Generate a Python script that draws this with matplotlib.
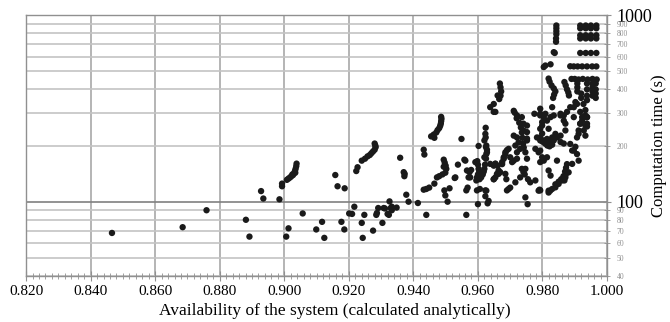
import matplotlib.pyplot as plt
import matplotlib.ticker as mticker
import numpy as np

# availability (x) and computation time in seconds (y)
avail = [
    0.8466, 0.8685, 0.8759, 0.8881, 0.8892, 0.8928, 0.8935, 0.8985, 0.8993, 0.8993,
    0.9008, 0.9013, 0.9018, 0.9022, 0.9027, 0.9030, 0.9033, 0.9035, 0.9037, 0.9038,
    0.9034, 0.9025, 0.9057, 0.9013, 0.9006, 0.9099, 0.9117, 0.9124, 0.9158, 0.9165,
    0.9187, 0.9177, 0.9186, 0.9201, 0.9210, 0.9217, 0.9223, 0.9227, 0.9240, 0.9250,
    0.9258, 0.9265, 0.9270, 0.9275, 0.9280, 0.9283, 0.9282, 0.9280, 0.9240, 0.9243,
    0.9248, 0.9275, 0.9285, 0.9287, 0.9291, 0.9304, 0.9308, 0.9312, 0.9320, 0.9324,
    0.9326, 0.9330, 0.9348, 0.9359, 0.9333, 0.9333,
    0.9370, 0.9372, 0.9373, 0.9378, 0.9385, 0.9414, 0.9432, 0.9434, 0.9432, 0.9440,
    0.9449, 0.9440, 0.9455, 0.9463, 0.9465, 0.9471, 0.9475, 0.9480, 0.9483, 0.9485,
    0.9486, 0.9487, 0.9486, 0.9465, 0.9473, 0.9480, 0.9490, 0.9499, 0.9502, 0.9500,
    0.9497, 0.9494, 0.9494, 0.9496, 0.9499, 0.9506, 0.9512, 0.9528, 0.9538, 0.9549,
    0.9558, 0.9564, 0.9568, 0.9564, 0.9571, 0.9574, 0.9579,
    0.9561, 0.9566, 0.9576, 0.9592, 0.9530, 0.9597, 0.9623, 0.9633,
    0.9600, 0.9606, 0.9598, 0.9600, 0.9602, 0.9604, 0.9600, 0.9597, 0.9595, 0.9605,
    0.9610, 0.9615, 0.9618, 0.9620, 0.9622, 0.9625, 0.9626, 0.9628, 0.9626, 0.9602,
    0.9624, 0.9624, 0.9626, 0.9623, 0.9630, 0.9638, 0.9649, 0.9654, 0.9661, 0.9649,
    0.9661, 0.9654, 0.9668, 0.9670, 0.9672, 0.9670, 0.9666, 0.9649, 0.9654, 0.9664,
    0.9649, 0.9659, 0.9669, 0.9675, 0.9680, 0.9685, 0.9690, 0.9685, 0.9688, 0.9690,
    0.9695, 0.9700,
    0.9623, 0.9620, 0.9625, 0.9628, 0.9620,
    0.9638, 0.9654, 0.9649, 0.9664, 0.9675, 0.9680, 0.9685, 0.9695, 0.9700, 0.9706,
    0.9716, 0.9721, 0.9731,
    0.9711, 0.9714, 0.9720, 0.9728, 0.9733, 0.9736, 0.9738, 0.9740, 0.9742, 0.9721,
    0.9736, 0.9741, 0.9741, 0.9752, 0.9752, 0.9752, 0.9752, 0.9711, 0.9721, 0.9726,
    0.9711, 0.9721, 0.9747, 0.9752, 0.9716, 0.9731, 0.9741, 0.9747, 0.9736, 0.9745,
    0.9755, 0.9762, 0.9747, 0.9754, 0.9775, 0.9778, 0.9778, 0.9788, 0.9799, 0.9793,
    0.9799, 0.9799, 0.9793, 0.9799, 0.9793, 0.9793, 0.9793, 0.9791, 0.9788,
    0.9783, 0.9793, 0.9804, 0.9814, 0.9824, 0.9835, 0.9845, 0.9856, 0.9866,
    0.9793, 0.9804, 0.9793, 0.9814,
    0.9804, 0.9809, 0.9825, 0.9819, 0.9822, 0.9828, 0.9835, 0.9840, 0.9836, 0.9833,
    0.9835, 0.9838, 0.9843, 0.9843, 0.9843, 0.9843, 0.9842, 0.9842, 0.9868, 0.9872,
    0.9876, 0.9880, 0.9882, 0.9886, 0.9897, 0.9909, 0.9923, 0.9938, 0.9954, 0.9967,
    0.9917, 0.9934, 0.9950, 0.9967,
    0.9917, 0.9917, 0.9917, 0.9917, 0.9934, 0.9934, 0.9934, 0.9934,
    0.9950, 0.9950, 0.9950, 0.9950, 0.9967, 0.9967, 0.9967, 0.9967,
    0.9890, 0.9900, 0.9912, 0.9925, 0.9940, 0.9955, 0.9968,
    0.9908, 0.9908, 0.9908, 0.9920, 0.9920, 0.9938, 0.9938, 0.9938, 0.9938,
    0.9955, 0.9955, 0.9955, 0.9955, 0.9965, 0.9965, 0.9965, 0.9965,
    0.9886, 0.9902, 0.9917, 0.9927, 0.9933, 0.9938, 0.9933,
    0.9819, 0.9830, 0.9840, 0.9856, 0.9819, 0.9825, 0.9819, 0.9830, 0.9819, 0.9840,
    0.9850, 0.9858, 0.9865, 0.9870, 0.9873, 0.9876, 0.9872, 0.9868, 0.9845, 0.9856,
    0.9866, 0.9897, 0.9871, 0.9871, 0.9886, 0.9892, 0.9902, 0.9907, 0.9912, 0.9912,
    0.9917, 0.9923, 0.9938, 0.9938, 0.9933, 0.9809, 0.9825,
    0.9800, 0.9808, 0.9815, 0.9822, 0.9830,
    0.9907, 0.9912, 0.9917, 0.9923, 0.9933, 0.9938, 0.9928,
    0.9897, 0.9892, 0.9881, 0.9871, 0.9861, 0.9850, 0.9840, 0.9824,
    0.9793, 0.9804, 0.9814, 0.9830, 0.9835, 0.9856, 0.9866, 0.9876, 0.9897, 0.9907,
]
comp_time = [
    68, 73, 90, 80, 65, 114, 104, 103, 121, 125,
    131, 133, 135, 137, 139, 142, 146, 150, 155, 160,
    143, 140, 86.5, 72, 65, 71, 78, 64, 139, 121,
    118, 78, 71, 86.5, 86, 94, 146, 153, 166, 170,
    175, 178, 182, 186, 190, 196, 200, 205, 77, 64,
    85, 70, 85, 87, 92.5, 77, 92.5, 92, 86, 85,
    100.4, 92.5, 93, 172, 94, 90,
    144, 137, 141, 109, 100, 98.4, 190, 179, 116, 117,
    119, 85, 224, 229, 220, 235, 242, 248, 255, 262,
    270, 278, 285, 125, 135, 137, 140, 143, 150, 156,
    162, 168, 154, 115, 108, 100, 118, 134, 158, 217,
    168, 115, 119, 85, 135, 144, 148,
    166, 147, 135, 163, 135, 115, 115, 101,
    97, 117, 165, 158, 150, 145, 140, 135, 130, 132,
    135, 140, 145, 150, 158, 170, 180, 190, 200, 199,
    249, 221, 114.6, 107, 98, 321, 334, 303, 371, 156,
    156, 135, 430, 410, 390, 370, 355, 303, 160, 141,
    132, 141, 144, 159, 170, 180, 189, 141, 132, 115,
    117, 119,
    231, 213, 196, 184, 173,
    159.5, 159.5, 132, 147, 163, 173, 184, 192, 173, 163,
    200, 184, 192,
    307, 300, 280, 265, 250, 235, 220, 205, 195, 290,
    284, 262, 241, 256, 236, 218, 213, 226, 221, 208,
    166, 170, 184, 170, 127, 135, 144, 150, 150, 140,
    132, 127, 105.5, 97, 296, 130, 192, 184, 173, 315,
    256, 232, 290, 267, 246, 221, 115, 116, 114.6,
    221, 213, 213, 217, 209, 213, 221, 209, 205,
    188, 166, 163, 173,
    527, 537, 545, 457, 440, 420, 405, 390, 375, 360,
    633, 627, 880, 850, 820, 790, 750, 720, 438, 420,
    400, 385, 371, 532, 531, 531, 531, 531, 531, 531,
    627, 627, 627, 627,
    880, 850, 780, 750, 880, 850, 780, 750,
    880, 850, 780, 750, 880, 850, 780, 750,
    455, 455, 452, 455, 452, 455, 452,
    430, 410, 390, 380, 360, 430, 400, 370, 350,
    430, 410, 390, 370, 430, 400, 380, 360,
    321, 342, 303, 334, 310, 284, 256,
    246, 221, 231, 226, 147, 138, 114.6, 117, 112, 124,
    128, 132, 137, 145, 152, 159, 140, 130, 166, 296,
    290, 284, 262, 241, 204, 188, 197, 180, 166, 241,
    262, 272, 284, 253, 226, 296, 284,
    210, 205, 200, 198, 202,
    221, 231, 262, 284, 290, 262, 241,
    188, 159.5, 143.7, 135, 130, 124.6, 119.4, 114.6,
    296, 284, 272, 321, 290, 290, 272, 303, 321, 334,
]

x_ticks = np.arange(0.82, 1.0001, 0.02)
y_minor = [40, 50, 60, 70, 80, 90, 200, 300, 400, 500, 600, 700, 800, 900]

plt.rcParams['font.family'] = ['Liberation Serif', 'DejaVu Serif']

fig = plt.figure(figsize=(6.7, 3.22), dpi=100)
ax = fig.add_axes([0.039, 0.143, 0.867, 0.810])

ax.set_yscale('log')
ax.set_xlim(0.82, 1.0)
ax.set_ylim(40, 1000)

# grid lines
for xv in x_ticks:
    ax.axvline(xv, color='#a8a8a8', lw=1.2, zorder=0)
for yv in y_minor:
    ax.axhline(yv, color='#c4c4c4', lw=1.2, zorder=0)
ax.axhline(100, color='#808080', lw=1.2, zorder=0)

ax.scatter(avail, comp_time, s=21, color='#1a1a1a', edgecolors='none', zorder=3)

for side in ['left', 'top', 'bottom', 'right']:
    ax.spines[side].set_color('#909090')
    ax.spines[side].set_linewidth(1.0)

ax.xaxis.set_major_locator(mticker.FixedLocator(x_ticks))
ax.xaxis.set_minor_locator(mticker.MultipleLocator(0.002))
ax.xaxis.set_major_formatter(mticker.FuncFormatter(lambda v, p: f'{v:.3f}'))
ax.tick_params(axis='x', which='major', direction='inout', length=7, color='#909090',
               labelsize=11, pad=3)
ax.tick_params(axis='x', which='minor', direction='inout', length=4, color='#909090')

ax.yaxis.tick_right()
ax.yaxis.set_major_locator(mticker.FixedLocator([100, 1000]))
ax.yaxis.set_minor_locator(mticker.FixedLocator(y_minor))
ax.yaxis.set_major_formatter(mticker.FuncFormatter(lambda v, p: f'{v:.0f}'))
ax.yaxis.set_minor_formatter(mticker.FuncFormatter(lambda v, p: f'{v:.0f}'))
ax.tick_params(axis='y', which='major', direction='inout', length=6, color='#909090',
               labelsize=13, pad=4)
ax.tick_params(axis='y', which='minor', direction='inout', length=4, color='#909090',
               labelsize=5.5, labelcolor='#909090', pad=5)

ax.set_xlabel('Availability of the system (calculated analytically)', fontsize=12.5)
ax.xaxis.set_label_coords(0.532, -0.105)
ax.yaxis.set_label_position('right')
ax.set_ylabel('Computation time (s)', fontsize=12, rotation=90)
ax.yaxis.set_label_coords(1.075, 0.50)

fig.savefig('out.png', dpi=100)
